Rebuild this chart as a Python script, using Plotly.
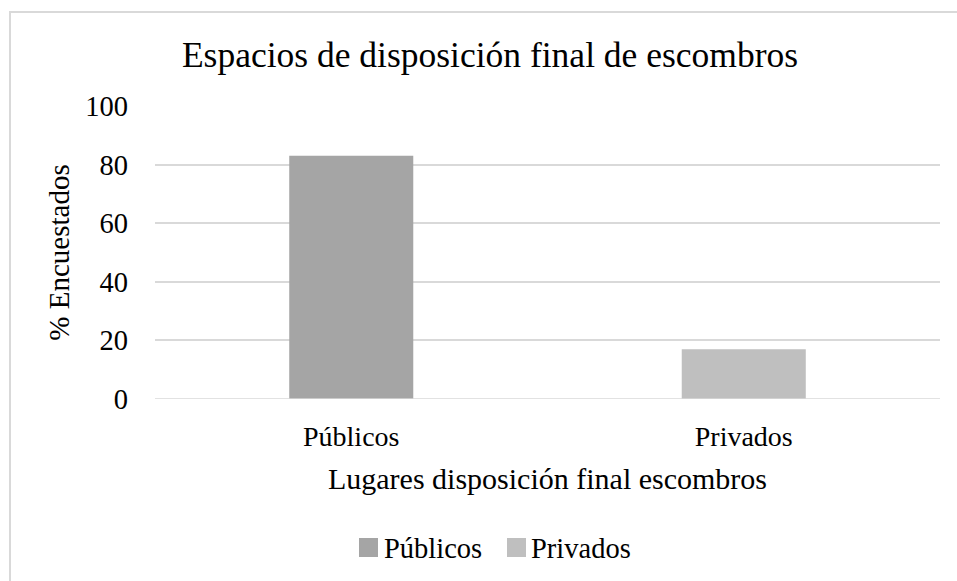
import plotly.graph_objects as go

categories = ["Públicos", "Privados"]
values = [83, 17]
colors = ["#A5A5A5", "#BFBFBF"]
y_ticks = [0, 20, 40, 60, 80, 100]
title_text = "Espacios de disposición final de escombros"
x_title = "Lugares disposición final escombros"
y_title = "% Encuestados"

W, H = 957, 581
L, R, T, B = 155, 940, 106, 399
FONT = "Liberation Serif, Times New Roman, serif"


def px(x):
    return (x - L) / (R - L)


def py(y):
    return (B - y) / (B - T)


fig = go.Figure()
fig.add_trace(go.Bar(x=categories, y=values, marker=dict(color=colors, line=dict(width=0)),
                     width=0.316, showlegend=False))

shapes = [dict(type="rect", xref="paper", yref="paper", x0=px(10), x1=px(962), y0=py(12), y1=py(590),
               line=dict(color="#D9D9D9", width=2), fillcolor="rgba(0,0,0,0)", layer="below")]
annotations = []
leg_sq_x = [359, 507]
leg_txt_x = [382, 529]
for cat, col, sx, tx in zip(categories, colors, leg_sq_x, leg_txt_x):
    shapes.append(dict(type="rect", xref="paper", yref="paper", x0=px(sx), x1=px(sx + 19),
                       y0=py(557), y1=py(538), fillcolor=col, line=dict(width=0)))
    annotations.append(dict(text=cat, xref="paper", yref="paper", x=px(tx), y=py(548),
                            xanchor="left", yanchor="middle", showarrow=False,
                            font=dict(family=FONT, size=28.5, color="#000000")))

fig.update_layout(
    width=W, height=H, autosize=False,
    margin=dict(l=L, r=W - R, t=T, b=H - B, pad=0),
    paper_bgcolor="white", plot_bgcolor="white",
    font=dict(family=FONT, color="#000000"),
    title=dict(text=title_text, x=px(490), xref="paper", xanchor="center",
               y=1 - 55 / H, yref="container", yanchor="middle",
               font=dict(family=FONT, size=35.5, color="#000000")),
    xaxis=dict(showgrid=False, showline=False, zeroline=False, ticks="",
               tickfont=dict(size=28), ticklabelstandoff=18,
               title=dict(text=x_title, font=dict(size=30), standoff=16)),
    yaxis=dict(range=[0, 100], tickvals=y_ticks, showgrid=True, gridcolor="#D9D9D9", gridwidth=1.5,
               zeroline=False, showline=False, ticks="", tickfont=dict(size=28.5),
               ticklabelstandoff=26,
               title=dict(text=y_title, font=dict(size=29), standoff=7)),
    shapes=shapes, annotations=annotations,
)
fig.add_hline(y=0, line=dict(color="#D9D9D9", width=1.5))

fig.write_html("out.html", config={"displayModeBar": False},
               post_script="document.body.style.margin='0';document.body.style.padding='0';")
